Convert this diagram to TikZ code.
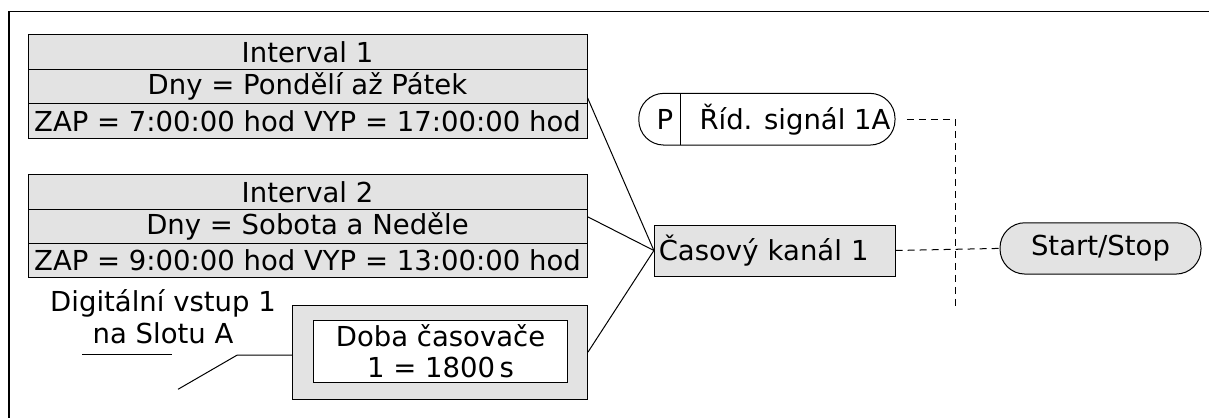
\documentclass[tikz,border=0pt]{standalone}
\usepackage{fontspec}
\setmainfont{DejaVu Sans}
\definecolor{boxgray}{RGB}{227,227,227}
\begin{document}
\begin{tikzpicture}[x=1pt,y=-1pt,
  txt/.style={font=\fontsize{27.5}{31}\selectfont},
  cell/.style={txt, draw, line width=1pt, fill=boxgray, minimum width=559pt, minimum height=34.5pt, inner sep=0pt},
  link/.style={line width=1pt},
  dlink/.style={line width=1pt, dash pattern=on 7pt off 5pt},
  pill/.style={txt, draw, line width=1pt, rounded corners=25pt, inner sep=0pt}]
\useasboundingbox (0,0) rectangle (1209,418);
% frame
\draw[line width=1.5pt] (1209,11.7) -- (8.8,11.7) -- (8.8,418);
% Interval 1
\node[cell] (i1a) at (307.5,51.8) {Interval 1};
\node[cell] (i1b) at (307.5,86.7) {Dny = Pondělí až Pátek};
\node[cell] (i1c) at (307.5,121.2) {ZAP = 7:00:00 hod VYP = 17:00:00 hod};
% Interval 2
\node[cell] (i2a) at (307.5,192) {Interval 2};
\node[cell] (i2b) at (307.5,226.3) {Dny = Sobota a Neděle};
\node[cell] (i2c) at (307.5,260.5) {ZAP = 9:00:00 hod VYP = 13:00:00 hod};
% Digital input label
\node[txt, align=center, inner sep=0pt] (din) at (163,317) {Digitální vstup 1\\[1pt]na Slotu A};
\coordinate (ul1) at (82.3,354.3);
\coordinate (ul2) at (172.2,354.3);
\draw[link] (ul1) -- (ul2);
% Timer box
\node[draw, line width=1pt, fill=boxgray, minimum width=294.6pt, minimum height=94.3pt, inner sep=0pt] (doba) at (440.1,352.2) {};
\node[txt, draw, line width=1pt, fill=white, minimum width=253.4pt, minimum height=62.3pt, inner sep=0pt, align=center] (dobain) at (440.5,351.2) {Doba časovače\\[0pt]1 = 1800\,s};
\coordinate (dfree) at (178,389.3);
\coordinate (dbend) at (237.3,355);
\draw[link] (dfree) -- (dbend) -- (dbend -| doba.west);
% Time channel
\node[txt, draw, line width=1pt, fill=boxgray, minimum width=240.7pt, minimum height=51pt, inner xsep=4pt, inner ysep=0pt, text width=232pt, align=left] (kanal) at (774.75,250.5) {Časový kanál 1};
% P node
\node[pill, minimum width=256.2pt, minimum height=51.7pt] (pnode) at (766.9,119.2) {};
\draw[line width=1pt] (680.4,93.3) -- (680.4,145.1);
\node[txt, inner sep=0pt] (plab) at (665,119.2) {P};
\node[txt, inner sep=0pt] (rid) at (795,119.2) {Říd. signál 1A};
% Start/Stop
\node[pill, fill=boxgray, minimum width=201pt, minimum height=51.3pt] (ss) at (1100.5,248.4) {Start/Stop};
% links
\draw[link] ([yshift=-11pt]i1b.east) -- (kanal.west);
\draw[link] ([yshift=9.6pt]i2b.east) -- (kanal.west);
\draw[link] (doba.east) -- (kanal.west);
\coordinate (pd1) at (906.8,119.3);
\coordinate (pd2) at (955.3,119.3);
\coordinate (pd3) at (955.3,306);
\draw[dlink] (pd1) -- (pd2) -- (pd3);
\draw[dlink] (kanal.east) -- (ss.west);
\end{tikzpicture}
\end{document}
